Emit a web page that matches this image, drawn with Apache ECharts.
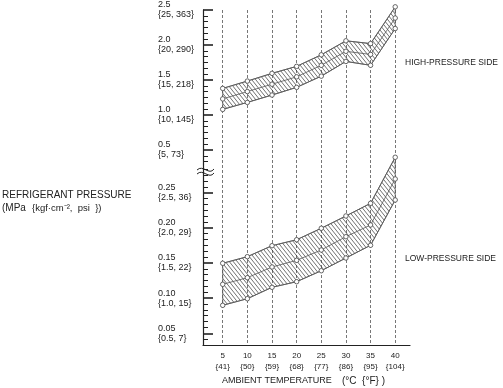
<!DOCTYPE html>
<html><head><meta charset="utf-8">
<script src="https://cdn.jsdelivr.net/npm/echarts@6/dist/echarts.min.js"></script>
<style>html,body{margin:0;padding:0;background:#fff}#c{width:503px;height:388px}</style>
</head><body><div id="c"></div>
<script>
// ---- data ----
const tempC = [5, 10, 15, 20, 25, 30, 35, 40];
const tempF = [41, 50, 59, 68, 77, 86, 95, 104];

const highUpper = [1.38, 1.485, 1.595, 1.695, 1.86, 2.06, 2.02, 2.545];
const highMid   = [1.23, 1.335, 1.44, 1.545, 1.71, 1.91, 1.865, 2.385];
const highLower = [1.08, 1.18, 1.285, 1.395, 1.555, 1.765, 1.71, 2.235];

const lowUpper = [0.1496, 0.159, 0.1746, 0.1831, 0.1994, 0.2169, 0.2349, 0.3004];
const lowMid   = [0.1197, 0.1291, 0.1443, 0.1538, 0.1685, 0.1874, 0.2041, 0.2695];
const lowLower = [0.0898, 0.0992, 0.1154, 0.1234, 0.139, 0.1571, 0.1752, 0.2396];

const highTicks = [0.5, 1.0, 1.5, 2.0, 2.5];
const highTickLabels = ['0.5\n{5, 73}', '1.0\n{10, 145}', '1.5\n{15, 218}', '2.0\n{20, 290}', '2.5\n{25, 363}'];
const lowTicks = [0.05, 0.10, 0.15, 0.20, 0.25];
const lowTickLabels = ['0.05\n{0.5, 7}', '0.10\n{1.0, 15}', '0.15\n{1.5, 22}', '0.20\n{2.0, 29}', '0.25\n{2.5, 36}'];

// ---- helpers ----
const FONT = 'Liberation Sans, Arial, Helvetica, sans-serif';
const TXT = '#222';
const LINE = '#555';

function minorTicks(majors, lo, hi, parts) {
  const step = (majors[1] - majors[0]) / parts;
  const out = [];
  const start = majors[0] - Math.floor((majors[0] - lo) / step + 1e-9) * step;
  for (let v = start; v <= hi + 1e-9; v += step) {
    const isMajor = majors.some(m => Math.abs(m - v) < step / 10);
    if (!isMajor) out.push(+v.toFixed(5));
  }
  return out;
}

function makeHatch() {
  const w = 4, h = 5;
  const c = document.createElement('canvas');
  c.width = w; c.height = h;
  const g = c.getContext('2d');
  g.strokeStyle = '#333';
  g.lineWidth = 0.7;
  g.beginPath();
  g.moveTo(-w, -h); g.lineTo(2 * w, 2 * h);
  g.moveTo(0, -h); g.lineTo(2 * w, h);
  g.moveTo(-w, 0); g.lineTo(w, 2 * h);
  g.stroke();
  return c;
}
const pattern = { image: makeHatch(), repeat: 'repeat' };

function labelFor(ticks, labels) {
  return v => {
    for (let i = 0; i < ticks.length; i++) if (Math.abs(ticks[i] - v) < 1e-6) return labels[i];
    return '';
  };
}

const HMIN = 0.3, HMAX = 2.5;
const LMIN = 0.03336, LMAX = 0.2908;
const XMIN = 1, XMAX = 43;

function band(gi, up, lo) {
  return {
    type: 'custom', xAxisIndex: gi, yAxisIndex: gi === 1 ? 1 : 3, clip: false, silent: true, z: 2,
    data: [[tempC[0], up[0]]],
    renderItem: (params, api) => {
      const pts = tempC.map((t, i) => api.coord([t, up[i]]));
      for (let i = tempC.length - 1; i >= 0; i--) pts.push(api.coord([tempC[i], lo[i]]));
      return { type: 'polygon', shape: { points: pts }, style: { fill: pattern, stroke: LINE, lineWidth: 0.8 } };
    }
  };
}
function pts(gi, arr) {
  return {
    type: 'line', xAxisIndex: gi, yAxisIndex: gi === 1 ? 1 : 3, clip: false, silent: true, z: 3,
    data: tempC.map((t, i) => [t, arr[i]]),
    symbol: 'circle', symbolSize: 4.5, showSymbol: true,
    itemStyle: { color: '#fff', borderColor: LINE, borderWidth: 0.9 },
    lineStyle: { color: LINE, width: 0.8 },
    animation: false
  };
}

const hiddenX = gi => ({ gridIndex: gi, type: 'value', min: XMIN, max: XMAX, show: false });

const option = {
  animation: false,
  backgroundColor: '#fff',
  grid: [
    { left: 203, top: 10, width: 207, height: 335 },
    { left: 203, top: 10, width: 207, height: 154 },
    { left: 203, top: 164, width: 207, height: 181 }
  ],
  xAxis: [
    {
      gridIndex: 0, type: 'value', min: XMIN, max: XMAX,
      axisLine: { onZero: false, lineStyle: { color: TXT, width: 1.2 } },
      axisTick: { show: false, customValues: tempC },
      axisLabel: {
        customValues: tempC, margin: 5, fontSize: 8, lineHeight: 11, color: TXT, fontFamily: FONT,
        formatter: v => { const i = tempC.indexOf(v); return i < 0 ? '' : tempC[i] + '\n{' + tempF[i] + '}'; }
      },
      splitLine: { show: true, lineStyle: { color: '#777', width: 1, type: [3, 2] } }
    },
    hiddenX(1),
    hiddenX(2)
  ],
  yAxis: [
    { gridIndex: 0, type: 'value', min: 0, max: 1, show: false },
    {
      gridIndex: 1, type: 'value', min: HMIN, max: HMAX, position: 'left',
      axisLine: { show: true, onZero: false, lineStyle: { color: TXT, width: 1.2 } },
      axisTick: { show: true, inside: true, length: 10, customValues: highTicks, lineStyle: { color: TXT, width: 1.6 } },
      axisLabel: { customValues: highTicks, formatter: labelFor(highTicks, highTickLabels), align: 'left', margin: 45,
        fontSize: 9, lineHeight: 10, color: TXT, fontFamily: FONT },
      splitLine: { show: false }
    },
    {
      gridIndex: 1, type: 'value', min: HMIN, max: HMAX, position: 'left',
      axisLine: { show: false, onZero: false },
      axisTick: { show: true, inside: true, length: 5, customValues: minorTicks(highTicks, HMIN, HMAX, 6), lineStyle: { color: TXT, width: 1 } },
      axisLabel: { show: false }, splitLine: { show: false }
    },
    {
      gridIndex: 2, type: 'value', min: LMIN, max: LMAX, position: 'left',
      axisLine: { show: true, onZero: false, lineStyle: { color: TXT, width: 1.2 } },
      axisTick: { show: true, inside: true, length: 10, customValues: lowTicks, lineStyle: { color: TXT, width: 1.6 } },
      axisLabel: { customValues: lowTicks, formatter: labelFor(lowTicks, lowTickLabels), align: 'left', margin: 45,
        fontSize: 9, lineHeight: 10, color: TXT, fontFamily: FONT },
      splitLine: { show: false }
    },
    {
      gridIndex: 2, type: 'value', min: LMIN, max: LMAX, position: 'left',
      axisLine: { show: false, onZero: false },
      axisTick: { show: true, inside: true, length: 5, customValues: minorTicks(lowTicks, LMIN, LMAX, 6), lineStyle: { color: TXT, width: 1 } },
      axisLabel: { show: false }, splitLine: { show: false }
    }
  ],
  graphic: [
    { type: 'rect', shape: { x: 196, y: 166, width: 6, height: 12 }, style: { fill: '#fff' }, z: 100 },
    { type: 'bezierCurve', shape: { x1: 197, y1: 170, cpx1: 203, cpy1: 164, cpx2: 209, cpy2: 176, x2: 214, y2: 169 }, style: { stroke: TXT, lineWidth: 1, fill: null }, z: 101 },
    { type: 'bezierCurve', shape: { x1: 197, y1: 174, cpx1: 203, cpy1: 168, cpx2: 209, cpy2: 180, x2: 214, y2: 173 }, style: { stroke: TXT, lineWidth: 1, fill: null }, z: 101 },
    { type: 'text', x: 2, y: 195, style: { text: 'REFRIGERANT PRESSURE', fontSize: 10, fontFamily: FONT, fill: TXT, verticalAlign: 'middle' } },
    { type: 'text', x: 2, y: 208, style: { text: '(MPa', fontSize: 10, fontFamily: FONT, fill: TXT, verticalAlign: 'middle' } },
    { type: 'text', x: 32, y: 208, style: { text: '{kgf\u00b7cm\u207b\u00b2,  psi  })', fontSize: 9.5, fontFamily: FONT, fill: TXT, verticalAlign: 'middle' } },
    { type: 'text', x: 405, y: 63, style: { text: 'HIGH-PRESSURE SIDE', fontSize: 8.5, fontFamily: FONT, fill: TXT, verticalAlign: 'middle' } },
    { type: 'text', x: 405, y: 259, style: { text: 'LOW-PRESSURE SIDE', fontSize: 8.5, fontFamily: FONT, fill: TXT, verticalAlign: 'middle' } },
    { type: 'text', x: 222, y: 381, style: { text: 'AMBIENT TEMPERATURE', fontSize: 9, fontFamily: FONT, fill: TXT, verticalAlign: 'middle' } },
    { type: 'text', x: 342, y: 381, style: { text: '(\u00b0C  {\u00b0F} )', fontSize: 10, fontFamily: FONT, fill: TXT, verticalAlign: 'middle' } }
  ],
  series: [
    band(1, highUpper, highLower),
    pts(1, highUpper), pts(1, highMid), pts(1, highLower),
    band(2, lowUpper, lowLower),
    pts(2, lowUpper), pts(2, lowMid), pts(2, lowLower)
  ]
};

const chart = echarts.init(document.getElementById('c'), null, { renderer: 'canvas' });
chart.setOption(option);
</script>
</body></html>
